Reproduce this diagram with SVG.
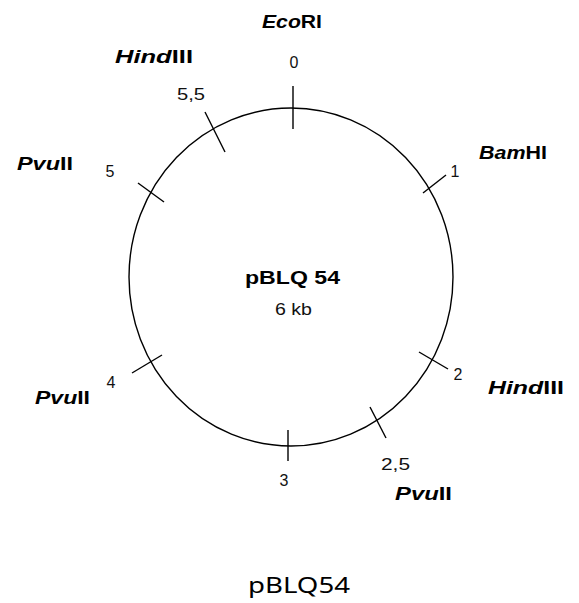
<svg xmlns="http://www.w3.org/2000/svg" width="579" height="603" viewBox="0 0 579 603">
<style>
.ln{stroke:#000;stroke-width:1.4;fill:none}
.num{font-family:"Liberation Sans",Arial,sans-serif;font-size:16px;fill:#111}
.enz{font-family:"Liberation Sans",Arial,sans-serif;font-size:18px;font-weight:bold;fill:#000}
.it{font-style:italic}
.title{font-family:"Liberation Sans",Arial,sans-serif;font-weight:bold;font-size:19px;fill:#000}
.cap{font-family:"Noto Sans","Open Sans",sans-serif;font-size:21px;fill:#000}
</style>
<rect width="579" height="603" fill="#fff"/>
<g id="plasmid">
<ellipse class="ln" cx="291" cy="277" rx="162" ry="169"/>
<text class="title" x="245" y="284" textLength="95" lengthAdjust="spacingAndGlyphs">pBLQ 54</text>
<text class="num" x="275" y="315" font-size="14" textLength="37" lengthAdjust="spacingAndGlyphs">6 kb</text>
</g>
<g id="connectors">
<line class="ln" x1="293" y1="86" x2="293" y2="129"/>
<line class="ln" x1="205" y1="112" x2="225" y2="152"/>
<line class="ln" x1="138" y1="183" x2="164" y2="202"/>
<line class="ln" x1="423" y1="193" x2="446" y2="175"/>
<line class="ln" x1="419" y1="352" x2="448" y2="369"/>
<line class="ln" x1="370" y1="407" x2="386" y2="438"/>
<line class="ln" x1="288" y1="430" x2="288" y2="461"/>
<line class="ln" x1="132" y1="373" x2="162" y2="355"/>
</g>
<g id="site-0">
<text class="num" x="294" y="68" text-anchor="middle">0</text>
<text class="enz" x="262" y="28" textLength="60" lengthAdjust="spacingAndGlyphs"><tspan class="it">Eco</tspan>RI</text>
</g>
<g id="site-5-5">
<text class="num" x="177" y="100" textLength="28" lengthAdjust="spacingAndGlyphs">5,5</text>
<text class="enz" x="115" y="63" textLength="78" lengthAdjust="spacingAndGlyphs"><tspan class="it">Hind</tspan>III</text>
</g>
<g id="site-5">
<text class="num" x="110" y="177" text-anchor="middle">5</text>
<text class="enz" x="17" y="170" textLength="56" lengthAdjust="spacingAndGlyphs"><tspan class="it">Pvu</tspan>II</text>
</g>
<g id="site-1">
<text class="num" x="455" y="177" text-anchor="middle">1</text>
<text class="enz" x="479" y="159" textLength="68" lengthAdjust="spacingAndGlyphs"><tspan class="it">Bam</tspan>HI</text>
</g>
<g id="site-2">
<text class="num" x="458" y="380" text-anchor="middle">2</text>
<text class="enz" x="488" y="394" textLength="76" lengthAdjust="spacingAndGlyphs"><tspan class="it">Hind</tspan>III</text>
</g>
<g id="site-2-5">
<text class="num" x="381" y="470" textLength="29" lengthAdjust="spacingAndGlyphs">2,5</text>
<text class="enz" x="395" y="500" textLength="57" lengthAdjust="spacingAndGlyphs"><tspan class="it">Pvu</tspan>II</text>
</g>
<g id="site-3">
<text class="num" x="284" y="486" text-anchor="middle">3</text>
</g>
<g id="site-4">
<text class="num" x="111" y="388" text-anchor="middle">4</text>
<text class="enz" x="35" y="404" textLength="55" lengthAdjust="spacingAndGlyphs"><tspan class="it">Pvu</tspan>II</text>
</g>
<text class="cap" x="248" y="593" textLength="102" lengthAdjust="spacingAndGlyphs">pBLQ54</text>
</svg>
